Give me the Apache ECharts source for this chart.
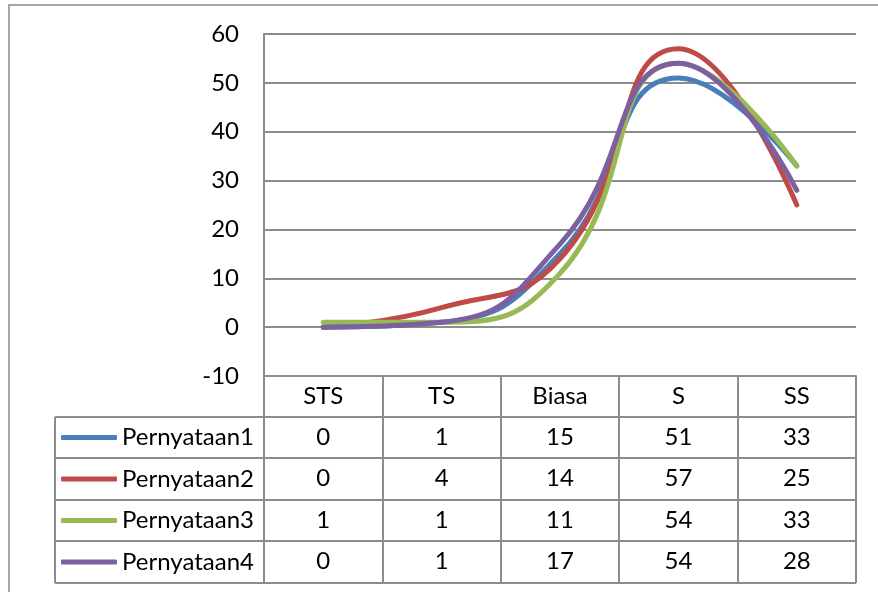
<!DOCTYPE html>
<html>
<head>
<meta charset="utf-8">
<script src="https://cdn.jsdelivr.net/npm/echarts@6/dist/echarts.min.js"></script>
<style>
  html, body { margin: 0; padding: 0; background: #fff; }
  #chart { width: 878px; height: 592px; }
</style>
</head>
<body>
<div id="chart"></div>
<script>
var categories = ['STS', 'TS', 'Biasa', 'S', 'SS'];
var seriesNames = ['Pernyataan1', 'Pernyataan2', 'Pernyataan3', 'Pernyataan4'];
var pernyataan1 = [0, 1, 15, 51, 33];
var pernyataan2 = [0, 4, 14, 57, 25];
var pernyataan3 = [1, 1, 11, 54, 33];
var pernyataan4 = [0, 1, 17, 54, 28];
var yTicks = [-10, 0, 10, 20, 30, 40, 50, 60];

var colors = ['#4a7ebb', '#be4b48', '#98b954', '#7d60a0'];
var allValues = [pernyataan1, pernyataan2, pernyataan3, pernyataan4];

var font = 'Lato, "Open Sans", sans-serif';
var fontSize = 24;
var gridColor = '#8c8c8c';

// layout of the table under the plot
var gridLeft = 264, gridRight = 856, plotTop = 34, plotBottom = 376;
var rowTops = [376, 417, 458, 500, 541];
var tableBottom = 583;
var legendLeft = 55;

var chart = echarts.init(document.getElementById('chart'));

var xAxes = [{
    type: 'category',
    data: categories,
    position: 'bottom',
    boundaryGap: true,
    axisLine: { show: true, onZero: false, lineStyle: { color: gridColor, width: 2 } },
    axisTick: { show: true, length: tableBottom - plotBottom, lineStyle: { color: gridColor, width: 2 } },
    axisLabel: { color: '#000', fontSize: fontSize, fontFamily: font, margin: 8 },
    splitLine: { show: false }
}];
allValues.forEach(function(vals, i) {
    xAxes.push({
        type: 'category',
        data: vals.map(String),
        position: 'bottom',
        offset: rowTops[i + 1] - plotBottom,
        boundaryGap: true,
        axisLine: { show: true, onZero: false, lineStyle: { color: gridColor, width: 2 } },
        axisTick: { show: false },
        axisLabel: { color: '#000', fontSize: fontSize, fontFamily: font, margin: 8 },
        splitLine: { show: false }
    });
});

var legends = seriesNames.map(function(name, i) {
    var bottom = i < 3 ? rowTops[i + 2] : tableBottom;
    return {
        data: [{ name: name, icon: 'roundRect' }],
        left: legendLeft + 6,
        top: (rowTops[i + 1] + bottom) / 2 - 15,
        padding: 0,
        itemWidth: 56,
        itemHeight: 5,
        textStyle: { color: '#000', fontSize: fontSize, fontFamily: font, lineHeight: 30 },
        selectedMode: false
    };
});

var graphics = [
    // outer frame
    { type: 'polyline', shape: { points: [[9, 592], [9, 5], [878, 5]] },
      style: { stroke: '#a6a6a6', lineWidth: 2, fill: null } }
];
// legend column of the table
for (var r = 1; r < rowTops.length; r++) {
    graphics.push({ type: 'line', shape: { x1: legendLeft, y1: rowTops[r], x2: gridLeft, y2: rowTops[r] },
        style: { stroke: gridColor, lineWidth: 2 } });
}
graphics.push({ type: 'line', shape: { x1: legendLeft, y1: tableBottom, x2: gridRight, y2: tableBottom },
    style: { stroke: gridColor, lineWidth: 2 } });
graphics.push({ type: 'line', shape: { x1: legendLeft, y1: rowTops[1], x2: legendLeft, y2: tableBottom },
    style: { stroke: gridColor, lineWidth: 2 } });

chart.setOption({
    animation: false,
    color: colors,
    legend: legends,
    grid: { left: gridLeft, right: 878 - gridRight, top: plotTop, bottom: 592 - plotBottom, containLabel: false },
    xAxis: xAxes,
    yAxis: {
        type: 'value',
        min: yTicks[0],
        max: yTicks[yTicks.length - 1],
        interval: 10,
        axisLine: { show: true, lineStyle: { color: gridColor, width: 2 } },
        axisTick: { show: false },
        axisLabel: { color: '#000', fontSize: fontSize, fontFamily: font, margin: 25 },
        splitLine: { show: true, lineStyle: { color: gridColor, width: 2 } }
    },
    graphic: graphics,
    series: allValues.map(function(vals, i) {
        return {
            name: seriesNames[i],
            type: 'line',
            data: vals,
            smooth: 0.5,
            symbol: 'none',
            lineStyle: { width: 5, cap: 'round', color: colors[i] }
        };
    })
});
</script>
</body>
</html>
